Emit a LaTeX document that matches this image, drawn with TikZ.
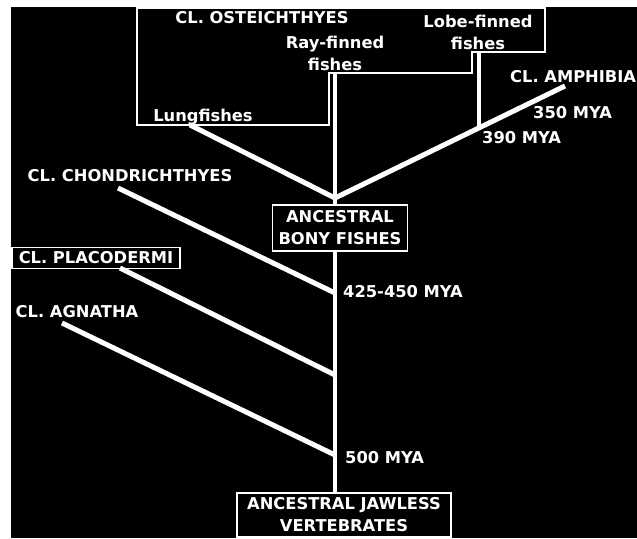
\documentclass[tikz,border=0pt]{standalone}
\usepackage{fontspec}
\setmainfont{DejaVu Sans}
\usepackage{tikz}
\usetikzlibrary{positioning}

\begin{document}
\begin{tikzpicture}[x=1pt,y=-1pt]
	\tikzstyle{txt}=[text=white,font=\bfseries\fontsize{16.3}{22}\selectfont,inner sep=0pt,align=center]
	\tikzstyle{tbox}=[txt,draw=white,line width=1.5pt]
	\tikzstyle{branch}=[white,line width=5pt]
	\tikzstyle{stem}=[white,line width=4pt]
	\useasboundingbox (0,0) rectangle (637,538);
	\fill[white] (0,0) rectangle (637,538);
	\fill[black] (11,7) rectangle (637,538);
	% bony fish group outline
	\draw[white,line width=1.5pt] (137,8) -- (137,125) -- (329,125) -- (329,73) -- (472,73) -- (472,52) -- (545,52) -- (545,8) -- cycle;
	% labels
	\node[txt](oste) at (262,18) {CL. OSTEICHTHYES};
	\node[txt](ray) at (335,53) {Ray-finned\\fishes};
	\node[txt](lobe) at (478,32) {Lobe-finned\\fishes};
	\node[txt](lung) at (203,117) {Lungfishes};
	\node[txt,anchor=west](amph) at (510,77) {CL. AMPHIBIA};
	\node[txt,anchor=west](m350) at (533,113) {350 MYA};
	\node[txt,anchor=west](m390) at (482,138) {390 MYA};
	\node[txt](chond) at (130,176) {CL. CHONDRICHTHYES};
	\node[tbox,minimum width=168pt,minimum height=21pt](placo) at (96,258) {CL. PLACODERMI};
	\node[txt](agna) at (77,312) {CL. AGNATHA};
	\node[tbox,minimum width=135pt,minimum height=46pt](bony) at (340,228) {ANCESTRAL\\BONY FISHES};
	\node[txt,anchor=west](m425) at (343,292) {425-450 MYA};
	\node[txt,anchor=west](m500) at (345,458) {500 MYA};
	\node[tbox,minimum width=214pt,minimum height=44pt](jawless) at (344,515) {ANCESTRAL JAWLESS\\VERTEBRATES};
	% branch points and tips
	\coordinate (j1) at (335,198);
	\coordinate (j2) at (335,293);
	\coordinate (j3) at (335,375);
	\coordinate (j4) at (335,455);
	\coordinate (j5) at (479,128);
	\coordinate (rayfoot) at (335,73);
	\coordinate (lobefoot) at (479,52);
	\coordinate (lungtip) at (190,125);
	\coordinate (amphtip) at (565,86);
	\coordinate (chondtip) at (118,188);
	\coordinate (placotip) at (120,268);
	\coordinate (agnatip) at (62,323);
	% tree
	\draw[stem] (rayfoot) -- (j1) -- (bony.north -| j1);
	\draw[stem] (bony.south -| j1) -- (jawless.north -| j1);
	\draw[stem] (lobefoot) -- (j5);
	\path[branch]
		(lungtip) edge (j1)
		(amphtip) edge (j1)
		(chondtip) edge (j2)
		(placotip) edge (j3)
		(agnatip) edge (j4);
\end{tikzpicture}
\end{document}
